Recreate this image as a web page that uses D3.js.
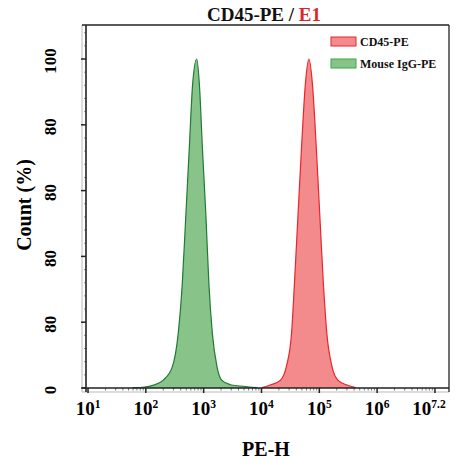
<!DOCTYPE html>
<html>
<head>
<meta charset="utf-8">
<script src="https://cdn.jsdelivr.net/npm/d3@7"></script>
<style>
  body { margin: 0; background: #fff; }
  svg { font-family: "Liberation Serif", "DejaVu Serif", serif; font-weight: bold; }
</style>
</head>
<body>
<svg width="462" height="459"></svg>
<script>
// PE-H intensity and count (%)
let iggPE    = [59, 95, 132, 200, 288, 363, 427, 490, 562, 646, 759, 841, 955, 1096, 1230, 1413, 1698, 2042, 2884, 4266, 8511];
let iggCount = [0.1, 0.3, 0.8, 2.4, 6.5, 16.6, 31.8, 52, 72.3, 92.6, 100, 92.6, 72.3, 52, 31.8, 16.6, 6.5, 2.4, 1.0, 0.6, 0.1];

let cd45PE    = [10233, 14125, 21380, 26915, 33113, 37154, 42658, 48978, 57544, 66069, 75858, 89125, 102329, 117490, 134896, 165959, 208930, 302000, 426580];
let cd45Count = [0.1, 0.9, 2.4, 6.5, 16.6, 31.8, 52, 72.3, 92.6, 100, 92.6, 72.3, 52, 31.8, 16.6, 6.5, 2.4, 0.9, 0.1];

let xTickExp = [1, 2, 3, 4, 5, 6, 7];
let xTickSup = ['1', '2', '3', '4', '5', '6', '7.2'];
let yTicks = [0, 20, 40, 60, 80, 100];
let yTickLabels = ['0', '80', '80', '80', '80', '100'];

let seriesNames = ['CD45-PE', 'Mouse IgG-PE'];

let svg = d3.select('svg');

let plotLeft = 86, plotRight = 449, plotTop = 25, plotBottom = 388;

let x = d3.scaleLog().domain([Math.pow(10, 0.965), Math.pow(10, 7.243)]).range([plotLeft, plotRight]);
let y = d3.scaleLinear().domain([0, 100]).range([plotBottom, 59]);

/* outer frame: top/right black, left/bottom light gray */
svg.append('line').attr('x1', 82).attr('x2', 82).attr('y1', plotTop).attr('y2', 392).attr('stroke', '#bbb');
svg.append('line').attr('x1', 82).attr('x2', plotRight).attr('y1', 392).attr('y2', 392).attr('stroke', '#bbb');
svg.append('line').attr('x1', 82).attr('x2', plotRight).attr('y1', plotTop).attr('y2', plotTop).attr('stroke', '#222').attr('stroke-width', 1.3);
svg.append('line').attr('x1', plotRight).attr('x2', plotRight).attr('y1', plotTop).attr('y2', 392).attr('stroke', '#222').attr('stroke-width', 1.3);

/* histograms */
let area = d3.area()
  .x(function(d) { return x(d[0]); })
  .y0(plotBottom)
  .y1(function(d) { return y(d[1]); })
  .curve(d3.curveMonotoneX);
let line = d3.line()
  .x(function(d) { return x(d[0]); })
  .y(function(d) { return y(d[1]); })
  .curve(d3.curveMonotoneX);

function drawHist(pe, count, fill, stroke) {
  let data = d3.zip(pe, count);
  svg.append('path').datum(data).attr('d', area).attr('fill', fill);
  svg.append('path').datum(data).attr('d', line).attr('fill', 'none').attr('stroke', stroke).attr('stroke-width', 1.2);
}
drawHist(iggPE, iggCount, '#88c489', '#1f7a35');
drawHist(cd45PE, cd45Count, '#f38a8b', '#e8262c');

/* y axis */
let yMinor = d3.range(0, 112, 4).filter(function(v) { return v % 20 !== 0; });
svg.append('g').selectAll('line').data(yMinor).enter().append('line')
  .attr('x1', 84).attr('x2', plotLeft).attr('y1', function(d) { return y(d); }).attr('y2', function(d) { return y(d); })
  .attr('stroke', '#999').attr('stroke-width', 1);
svg.append('g').selectAll('line').data(yTicks).enter().append('line')
  .attr('x1', 81).attr('x2', plotLeft).attr('y1', function(d) { return y(d); }).attr('y2', function(d) { return y(d); })
  .attr('stroke', '#222').attr('stroke-width', 1.5);
svg.append('line').attr('x1', plotLeft).attr('x2', plotLeft).attr('y1', plotTop).attr('y2', 392).attr('stroke', '#222').attr('stroke-width', 1.6);

svg.append('g').selectAll('text').data(yTicks).enter().append('text')
  .attr('transform', function(d) { return 'translate(56,' + (y(d) + 2) + ') rotate(-90)'; })
  .attr('text-anchor', 'middle')
  .attr('font-size', 17)
  .text(function(d, i) { return yTickLabels[i]; });

svg.append('text')
  .attr('transform', 'translate(31,205) rotate(-90)')
  .attr('text-anchor', 'middle')
  .attr('font-size', 20)
  .text('Count (%)');

/* x axis */
let xMinor = [];
for(let e = 0; e <= 7; e++) {
  for(let k = 2; k <= 9; k++) {
    let v = k * Math.pow(10, e);
    if(v > x.domain()[0] && v < x.domain()[1]) xMinor.push(v);
  }
}
svg.append('g').selectAll('line').data(xMinor).enter().append('line')
  .attr('x1', function(d) { return x(d); }).attr('x2', function(d) { return x(d); })
  .attr('y1', plotBottom).attr('y2', plotBottom + 2.5)
  .attr('stroke', '#777').attr('stroke-width', 1);
svg.append('g').selectAll('line').data(xTickExp).enter().append('line')
  .attr('x1', function(d) { return x(Math.pow(10, d)); }).attr('x2', function(d) { return x(Math.pow(10, d)); })
  .attr('y1', plotBottom).attr('y2', plotBottom + 5)
  .attr('stroke', '#222').attr('stroke-width', 1.5);
svg.append('line').attr('x1', 82).attr('x2', plotRight).attr('y1', plotBottom).attr('y2', plotBottom).attr('stroke', '#222').attr('stroke-width', 1.6);

let xt = svg.append('g').selectAll('text').data(xTickExp).enter().append('text')
  .attr('x', function(d, i) { return x(Math.pow(10, d)) - (i === 6 ? 6 : 0); })
  .attr('y', 415)
  .attr('text-anchor', 'middle')
  .attr('font-size', 19);
xt.append('tspan').text('10');
xt.append('tspan').attr('font-size', 11.5).attr('dy', -7).text(function(d, i) { return xTickSup[i]; });

svg.append('text')
  .attr('x', 266).attr('y', 456)
  .attr('text-anchor', 'middle')
  .attr('font-size', 20)
  .text('PE-H');

/* title */
let title = svg.append('text')
  .attr('x', 264).attr('y', 21)
  .attr('text-anchor', 'middle')
  .attr('font-size', 19);
title.append('tspan').attr('fill', '#111').text('CD45-PE / ');
title.append('tspan').attr('fill', '#d9262e').text('E1');

/* legend */
let legendFill = ['#f38a8b', '#88c489'];
let legendStroke = ['#e8262c', '#3aa64a'];
let legend = svg.append('g').selectAll('g').data(seriesNames).enter().append('g')
  .attr('transform', function(d, i) { return 'translate(331,' + (37 + i * 22) + ')'; });
legend.append('rect').attr('width', 25).attr('height', 9)
  .attr('fill', function(d, i) { return legendFill[i]; })
  .attr('stroke', function(d, i) { return legendStroke[i]; });
legend.append('text').attr('x', 29).attr('y', 9).attr('font-size', 12).attr('fill', '#111')
  .text(function(d) { return d; });
</script>
</body>
</html>
